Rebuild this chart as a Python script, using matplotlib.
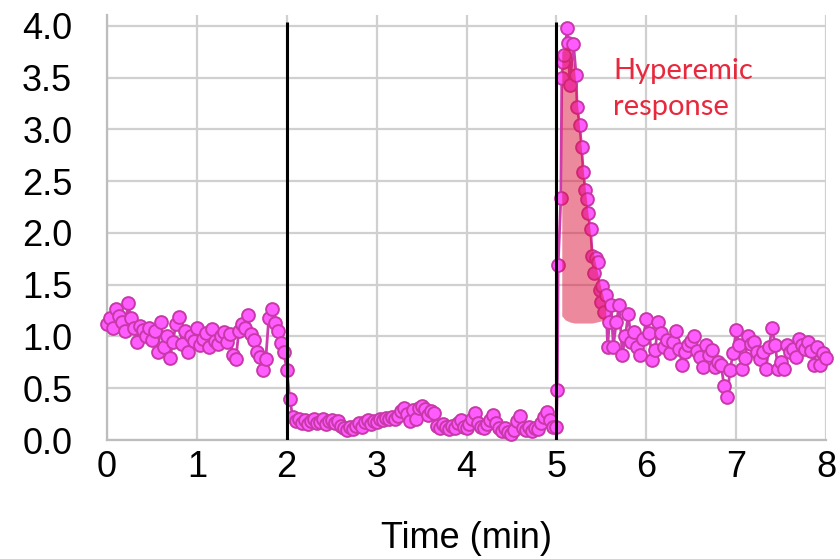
import numpy as np
import matplotlib
matplotlib.use("Agg")
import matplotlib.pyplot as plt

# baseline 0-2 min, sampled every 2 s
base_vals = [1.12, 1.18, 1.08, 1.27, 1.20, 1.14, 1.05, 1.32, 1.18, 1.08,
             0.95, 1.10, 1.06, 1.00, 1.08, 0.97, 1.05, 0.85, 1.14, 0.90,
             1.00, 0.79, 0.95, 1.12, 1.19, 0.93, 1.05, 0.85, 1.00, 0.96,
             1.08, 0.92, 0.98, 1.03, 0.90, 1.07, 0.96, 0.93, 1.00, 1.04,
             0.95, 1.02, 0.82, 0.78, 1.05, 1.12, 1.08, 1.21, 1.02, 0.97,
             0.85, 0.80, 0.68, 0.78, 1.18, 1.27, 1.13, 1.05, 0.94, 0.85,
             0.68]

# occlusion 2-5 min
occl_vals = [0.40, 0.22, 0.18, 0.20, 0.16, 0.19, 0.15, 0.18, 0.20, 0.16,
             0.17, 0.20, 0.15, 0.18, 0.19, 0.16, 0.18, 0.14, 0.12, 0.10,
             0.13, 0.11, 0.14, 0.16, 0.13, 0.17, 0.19, 0.15, 0.18, 0.17,
             0.20, 0.19, 0.21, 0.20, 0.22, 0.20, 0.23, 0.28, 0.31, 0.25,
             0.18, 0.29, 0.20, 0.31, 0.33, 0.30, 0.24, 0.28, 0.26, 0.14,
             0.12, 0.15, 0.13, 0.11, 0.14, 0.12, 0.16, 0.19, 0.13, 0.12,
             0.15, 0.20, 0.26, 0.16, 0.13, 0.12, 0.15, 0.19, 0.24, 0.16,
             0.12, 0.09, 0.12, 0.08, 0.06, 0.10, 0.18, 0.23, 0.12, 0.10,
             0.13, 0.09, 0.12, 0.11, 0.16, 0.22, 0.27, 0.19, 0.13]

# release / hyperemia
peak_t = [5.00, 5.01, 5.02, 5.05, 5.06, 5.07, 5.09, 5.12, 5.13, 5.15,
          5.19, 5.22, 5.23, 5.26, 5.28, 5.30, 5.32, 5.34, 5.35, 5.38,
          5.40, 5.42, 5.44, 5.46, 5.48, 5.50, 5.51, 5.53, 5.55, 5.57,
          5.59, 5.61]
peak_v = [0.13, 0.48, 1.69, 2.34, 3.50, 3.65, 3.72, 3.98, 3.84, 3.43,
          3.83, 3.53, 3.22, 3.04, 2.83, 2.59, 2.42, 2.33, 2.19, 2.04,
          1.78, 1.61, 1.76, 1.72, 1.45, 1.33, 1.49, 1.24, 1.40, 0.90,
          1.14, 1.30]

# recovery 5.63-8 min
rec_vals = [0.90, 1.14, 1.30, 0.82, 1.00, 1.22, 0.95, 1.04, 0.90, 0.82,
            0.98, 1.17, 1.03, 0.77, 0.87, 1.14, 1.03, 0.90, 0.97, 0.84,
            0.95, 1.05, 0.88, 0.72, 0.85, 0.92, 0.96, 1.00, 0.86, 0.80,
            0.71, 0.92, 0.82, 0.87, 0.71, 0.75, 0.72, 0.52, 0.42, 0.68,
            0.84, 1.06, 0.92, 0.69, 0.79, 1.00, 0.93, 0.95, 0.85, 0.78,
            0.85, 0.69, 0.90, 1.08, 0.92, 0.69, 0.75, 0.69, 0.92, 0.85,
            0.88, 0.80, 0.98, 0.92, 0.88, 0.95, 0.86, 0.72, 0.90, 0.72,
            0.84, 0.79]

# shaded hyperemic area
hyper_t = [5.06, 5.10, 5.15, 5.20, 5.25, 5.30, 5.35, 5.40, 5.45, 5.50, 5.55]
hyper_top = [3.75, 3.80, 3.78, 3.60, 3.10, 2.60, 2.20, 1.85, 1.65, 1.45, 1.30]
hyper_base = [1.20, 1.16, 1.14, 1.13, 1.13, 1.13, 1.13, 1.13, 1.14, 1.15, 1.18]

events = [2, 5]
xticks = [0, 1, 2, 3, 4, 5, 6, 7, 8]
yticks = [0.0, 0.5, 1.0, 1.5, 2.0, 2.5, 3.0, 3.5, 4.0]

t = np.concatenate([np.linspace(0, 2.0, len(base_vals)),
                    np.linspace(2 + 1 / 30, 5 - 1 / 30, len(occl_vals)),
                    peak_t,
                    np.linspace(5 + 19 / 30, 8.0, len(rec_vals))])
v = np.concatenate([base_vals, occl_vals, peak_v, rec_vals])

fig = plt.figure(figsize=(8.4, 5.59), dpi=100)
ax = fig.add_axes([107 / 840, 1 - 440 / 559, 719 / 840, 425 / 559])

ax.plot(t, v, color="#cc3cb0", lw=2.0, marker="o", ms=9.2,
        mfc="#ff5cff", mec="#c838a8", mew=1.4, clip_on=False, zorder=3)
ax.vlines(events, 0, 4.04, color="black", lw=2.2, zorder=4)
ax.fill_between(hyper_t, hyper_base, hyper_top, color="#dc143c", alpha=0.5,
                lw=0, zorder=5)

ax.text(5.63, 3.69, "Hyperemic\nresponse", color="#e8283c", fontsize=21,
        family="Lato", va="top", ha="left", linespacing=1.45)

ax.set_xlim(0, 8)
ax.set_ylim(0, 4.106)
ax.set_xticks(xticks)
ax.set_yticks(yticks)
ax.set_yticklabels(["%.1f" % y for y in yticks])
ax.grid(True, color="#d0d0d0", lw=1.6)
ax.set_axisbelow(True)
for s in ["top", "right"]:
    ax.spines[s].set_visible(False)
for s in ["left", "bottom"]:
    ax.spines[s].set_color("#bdbdbd")
    ax.spines[s].set_linewidth(1.6)
ax.tick_params(length=0, labelsize=26, labelcolor="black")
ax.tick_params(axis="y", pad=25)
ax.tick_params(axis="x", pad=7)
for lab in ax.get_xticklabels() + ax.get_yticklabels():
    lab.set_family("Liberation Sans")
ax.set_xlabel("Time (min)", fontsize=26, family="Liberation Sans", labelpad=26)

plt.savefig("out.png", dpi=100)
